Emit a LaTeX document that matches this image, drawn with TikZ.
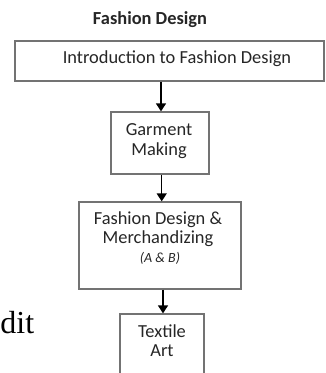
\documentclass[tikz,border=0pt]{standalone}
\usepackage{fontspec}
\setmainfont{Carlito}
\newfontfamily\serifdit{Liberation Serif}
\usetikzlibrary{arrows.meta}
\begin{document}
\begin{tikzpicture}[x=1pt,y=-1pt,
  box/.style={draw=black!55,line width=1.3pt,fill=white,inner sep=0pt},
  txt/.style={anchor=base,inner sep=0pt,text=black!85,font=\fontsize{18.4}{20}\selectfont},
  small/.style={anchor=base,inner sep=0pt,text=black!85,font=\fontsize{14}{16}\selectfont\itshape},
  conn/.style={draw=black,line width=1.4pt,-{Triangle[width=10pt,length=8pt]}}]
\useasboundingbox (0,0) rectangle (325,373);
\fill[white] (0,0) rectangle (325,373);
% title
\node[txt,font=\fontsize{18.4}{20}\selectfont\bfseries] (title) at (150,24) {Fashion Design};
% boxes
\node[box,minimum width=309pt,minimum height=40pt] (b1) at (169.5,61) {};
\node[box,minimum width=98pt,minimum height=62pt] (b2) at (160,143) {};
\node[box,minimum width=162pt,minimum height=87pt] (b3) at (160,245.5) {};
\node[box,minimum width=84pt,minimum height=70pt] (b4) at (162,349) {};
% texts
\node[txt] (t1) at (177,63) {Introduction to Fashion Design};
\node[txt] (t2a) at (159,135) {Garment};
\node[txt] (t2b) at (159,155) {Making};
\node[txt] (t3a) at (158,224) {Fashion Design \&};
\node[txt] (t3b) at (158,243) {Merchandizing};
\node[small] (t3c) at (160,262) {(A \& B)};
\node[txt] (t4a) at (162,337) {Textile};
\node[txt] (t4b) at (162,356) {Art};
% fragment
\node[anchor=base west,inner sep=0pt,font=\serifdit\fontsize{32}{34}\selectfont] (frag) at (0.3,333) {dit};
% connectors
\draw[conn] (b1.south -| 161,0) -- (b2.north -| 161,0);
\draw[conn] (b2.south -| 161.7,0) -- (b3.north -| 161.7,0);
\draw[conn] (b3.south -| 163,0) -- (b4.north -| 163,0);
\end{tikzpicture}
\end{document}
